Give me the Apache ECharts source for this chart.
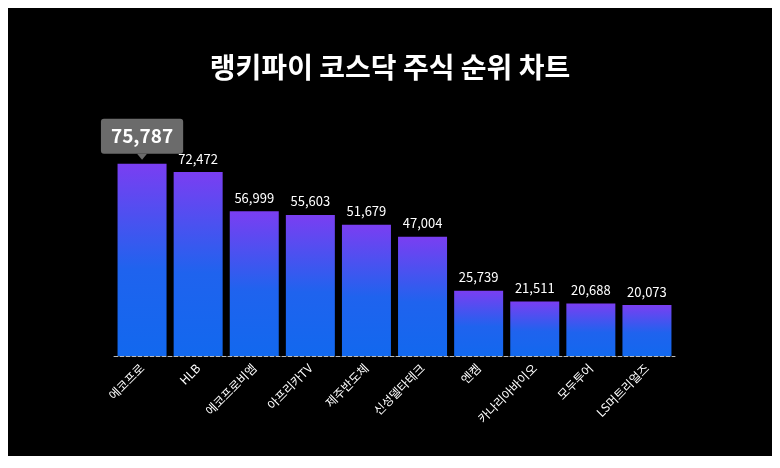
<!DOCTYPE html>
<html><head><meta charset="utf-8">
<script src="https://cdn.jsdelivr.net/npm/echarts@6/dist/echarts.min.js"></script>
<style>html,body{margin:0;background:#fff;width:780px;height:468px;overflow:hidden}
#c{position:absolute;left:8px;top:8px;width:764px;height:448px;background:#000}</style>
</head><body><div id="c"></div>
<script>
const categories=['에코프로','HLB','에코프로비엠','아프리카TV','제주반도체','신성델타테크','엔켐','카나리아바이오','모두투어','LS머트리얼즈'];
const values=[75787,72472,56999,55603,51679,47004,25739,21511,20688,20073];
const font='"Noto Sans CJK KR","Noto Sans",sans-serif';
const chart=echarts.init(document.getElementById('c'));
const grad={type:'linear',x:0,y:0,x2:0,y2:1,colorStops:[{offset:0,color:'#7a3ef2'},{offset:0.55,color:'#1f63ee'},{offset:1,color:'#1268ee'}]};
chart.setOption({
 backgroundColor:'#000',
 title:{text:'랭키파이 코스닥 주식 순위 차트',left:'center',top:40,textStyle:{color:'#fff',fontSize:28,fontWeight:'bold',fontFamily:font}},
 grid:{left:106,right:97,top:145,bottom:100},
 xAxis:{type:'category',data:categories,axisTick:{show:false},
  axisLine:{lineStyle:{color:'#bbb',type:'dashed',width:1}},
  axisLabel:{color:'#fff',rotate:45,fontSize:12,fontFamily:font,margin:10}},
 yAxis:{type:'value',min:0,max:80000,show:false,splitLine:{show:false}},
 series:[{type:'bar',barWidth:49,itemStyle:{color:grad},
  data:values.map((v,i)=>i===0?{value:v,label:{position:'top',distance:10,backgroundColor:'#6b6b6b',borderRadius:3,padding:[8,10],fontSize:19,fontWeight:'bold'}}:v),
  label:{show:true,position:'top',distance:7,color:'#fff',fontSize:13,fontFamily:font,formatter:p=>p.value.toLocaleString('en-US')},
  markPoint:{symbol:'triangle',symbolSize:[10,6],symbolRotate:180,symbolOffset:[0,-7],itemStyle:{color:'#6b6b6b'},label:{show:false},
   data:[{coord:[0,values[0]]}]}
 }]
});
</script></body></html>
